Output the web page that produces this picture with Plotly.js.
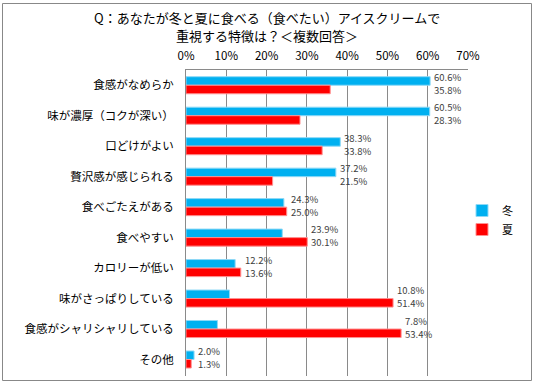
<!DOCTYPE html>
<html><head><meta charset="utf-8">
<script src="https://cdn.plot.ly/plotly-3.0.1.min.js"></script>
<style>html,body{margin:0;padding:0;background:#fff;}#chart{width:534px;height:384px;}</style>
</head><body><div id="chart"></div>
<script>
const categories = ["食感がなめらか","味が濃厚（コクが深い）","口どけがよい","贅沢感が感じられる","食べごたえがある","食べやすい","カロリーが低い","味がさっぱりしている","食感がシャリシャリしている","その他"];
const winter = [60.6,60.5,38.3,37.2,24.3,23.9,12.2,10.8,7.8,2.0];
const summer = [35.8,28.3,33.8,21.5,25.0,30.1,13.6,51.4,53.4,1.3];
const seriesNames = ["冬","夏"];
const xTicks = [0,10,20,30,40,50,60,70];
const titleLines = ["Q：あなたが冬と夏に食べる（食べたい）アイスクリームで","重視する特徴は？＜複数回答＞"];

const W = 534, H = 384, L = 186, R = 66, T = 70, B = 8;
const pw = W - L - R, ph = H - T - B;
const font = "'Noto Sans CJK JP', 'Noto Sans', sans-serif";
const px2x = p => (p - L) / pw;
const px2y = p => 1 - (p - T) / ph;

const traces = [
  {type:'bar', orientation:'h', name:seriesNames[0], y:categories, x:winter,
   marker:{color:'#00B0F0', line:{color:'#8FD9F6', width:1}}, hoverinfo:'none'},
  {type:'bar', orientation:'h', name:seriesNames[1], y:categories, x:summer,
   marker:{color:'#FF0000', line:{color:'#FF9090', width:1}}, hoverinfo:'none'}
];

const annotations = [];
categories.forEach((c,i)=>{
  const mx = Math.max(winter[i], summer[i]);
  annotations.push({x:mx, y:c, xref:'x', yref:'y', text:winter[i].toFixed(1)+'%', showarrow:false, borderpad:0,
    xanchor:'left', yanchor:'middle', xshift:3, yshift:8.5, font:{family:font, size:9.5, color:'#404040'}});
  annotations.push({x:mx, y:c, xref:'x', yref:'y', text:summer[i].toFixed(1)+'%', showarrow:false, borderpad:0,
    xanchor:'left', yanchor:'middle', xshift:3, yshift:-4.5, font:{family:font, size:9.5, color:'#404040'}});
});
const titleY = [17.5, 35.5];
titleLines.forEach((t,i)=>{
  annotations.push({x:px2x(267), y:px2y(titleY[i]), xref:'paper', yref:'paper', text:t, showarrow:false, borderpad:0,
    xanchor:'center', yanchor:'middle', font:{family:font, size:13, color:'#000'}});
});

const layout = {
  width:W, height:H,
  margin:{l:L, r:R, t:T, b:B, pad:0},
  paper_bgcolor:'#fff', plot_bgcolor:'#fff',
  font:{family:font, size:11, color:'#000'},
  barmode:'group', bargap:0.44, bargroupgap:0,
  xaxis:{side:'top', range:[0,70], tickvals:xTicks, ticktext:xTicks.map(v=>v+'%'),
    showgrid:true, gridcolor:'#8A8A8A', gridwidth:1, showline:true, linecolor:'#8A8A8A', linewidth:1,
    ticks:'', ticklabelstandoff:4, zeroline:false, tickfont:{family:font, size:11.5, color:'#000'}, fixedrange:true},
  yaxis:{type:'category', autorange:'reversed', showgrid:false, showline:true, linecolor:'#8A8A8A', linewidth:1,
    ticks:'', ticklabelstandoff:9, tickfont:{family:font, size:11.5, color:'#000'}, fixedrange:true},
  legend:{x:px2x(462), y:px2y(196), xanchor:'left', yanchor:'top', font:{family:font, size:11, color:'#000'},
    bgcolor:'rgba(0,0,0,0)', itemwidth:30, tracegroupgap:0},
  showlegend:true,
  annotations:annotations,
  shapes:[{type:'rect', xref:'paper', yref:'paper',
    x0:px2x(2.5), x1:px2x(531.5), y0:px2y(380.5), y1:px2y(3.5),
    line:{color:'#888', width:1}, fillcolor:'rgba(0,0,0,0)', layer:'below'}]
};

Plotly.newPlot('chart', traces, layout, {displayModeBar:false, staticPlot:true});
</script></body></html>
